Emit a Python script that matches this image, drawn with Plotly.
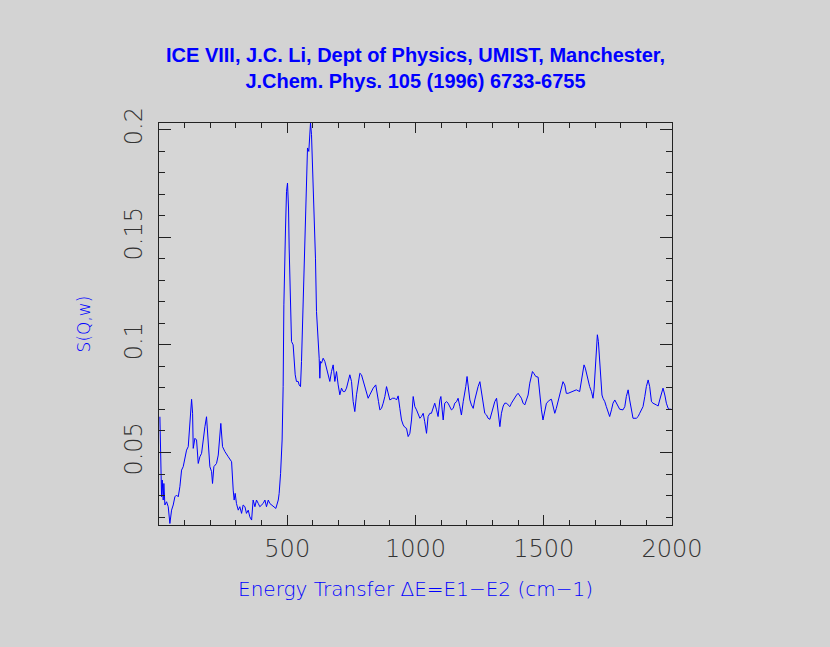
import plotly.graph_objects as go

# Energy transfer (cm-1) and S(Q,w) values
energy = [3.5, 7.4, 10, 12.6, 16.5, 19, 23, 29.5, 36, 42.4, 49, 55.4, 62, 68.4, 75, 81.4, 88, 94.4,
          101, 107.4, 114, 120.4, 127, 131, 133.4, 140, 146.4, 153, 159.4, 166, 172.3, 179, 185.3,
          192, 198.3, 205, 208.7, 214, 224.3, 231, 237.3, 241, 247.7, 257, 270, 283, 289.3, 293,
          297, 302, 309, 315, 322, 328, 335, 341, 348, 354, 361, 367, 374, 380, 387, 393, 406,
          413, 419, 426, 432, 445, 455.5, 465, 468.5, 474, 480, 484,
          486.8, 493.3, 497.2, 501, 505, 507.5, 512.7, 516.6, 523, 527, 531, 536, 542.6, 546.5,
          551.7, 555.6, 559.5, 564.7, 568.6, 575, 579, 584, 588, 590.7, 594.6, 598.5, 601, 605,
          610, 614, 620.6, 624.5, 627, 629.6, 633.5, 640, 646.5, 653, 659.5, 666, 672.5, 679,
          685.5, 692, 698.5, 705, 711.5, 718, 724.5, 731, 744, 750.5, 757, 763.4, 770, 776.4,
          783, 789.4, 796, 802.4, 809, 815.4, 822, 828.4, 835, 845, 850.5, 855.7, 861,
          867.5, 874, 880.5, 887, 893.5, 900, 910.4, 919.5, 926, 932.4, 939, 945.4, 952, 958.4,
          965, 971.4, 978, 984.4, 991, 997.4, 1004, 1010, 1017, 1023, 1030, 1036, 1043, 1049,
          1056, 1062, 1069, 1075, 1082, 1088, 1095, 1099, 1104, 1108, 1114, 1121, 1127, 1134,
          1140, 1147, 1153, 1160, 1166, 1173, 1179, 1186, 1192, 1196, 1201, 1207, 1212, 1218,
          1225, 1231, 1238, 1244, 1251, 1257, 1264, 1270, 1277, 1283, 1290, 1296, 1303, 1309,
          1316, 1322, 1329, 1335, 1342, 1348, 1355, 1361, 1368, 1374, 1381, 1387, 1394, 1400,
          1406.5, 1413, 1419.5, 1426, 1432.5, 1439, 1445.5, 1452, 1456, 1461, 1469, 1478, 1484,
          1491, 1497, 1504, 1510.5, 1517, 1523, 1530, 1536, 1543, 1549, 1556, 1562, 1569, 1575,
          1582, 1588, 1595, 1601, 1614, 1627, 1640, 1647, 1653, 1657, 1662, 1666, 1673, 1679,
          1686, 1692, 1696, 1700, 1705, 1709, 1713, 1718, 1722, 1727, 1731, 1738, 1744, 1751,
          1757, 1764, 1770, 1777, 1783, 1790, 1796, 1809, 1816, 1822, 1829, 1835, 1842, 1848,
          1861, 1868, 1874, 1881, 1887, 1894, 1900, 1907, 1913, 1920, 1926, 1939, 1946, 1952,
          1959, 1965, 1972, 1978, 1985, 1991, 1997]

sqw = [0.0666, 0.0403, 0.0294, 0.0372, 0.0279, 0.0356, 0.0256, 0.0271, 0.0248, 0.0170, 0.0232,
       0.0256, 0.0294, 0.0302, 0.0294, 0.0341, 0.0418, 0.0434, 0.0480, 0.0511, 0.0527, 0.0635,
       0.0747, 0.0682, 0.0519, 0.0566, 0.0558, 0.0449, 0.0480, 0.0496, 0.0573, 0.0620, 0.0666,
       0.0558, 0.0434, 0.0411, 0.0356, 0.0434, 0.0449, 0.0488, 0.0573, 0.0635, 0.0527, 0.0504,
       0.0480, 0.0457, 0.0325, 0.0279, 0.0310, 0.0263, 0.0232, 0.0248, 0.0217, 0.0256, 0.0248,
       0.0217, 0.0232, 0.0201, 0.0186, 0.0279, 0.0248, 0.0279, 0.0263, 0.0248, 0.0263, 0.0279,
       0.0248, 0.0279, 0.0263, 0.0248, 0.0240, 0.0279, 0.0310, 0.0403, 0.0558, 0.0806,
       0.1186, 0.1543, 0.1713, 0.1752, 0.1636, 0.1450, 0.1202, 0.1016, 0.1000, 0.0923, 0.0861,
       0.0830, 0.0830, 0.0814, 0.0806, 0.0923, 0.1109, 0.1233, 0.1419, 0.1729, 0.1915, 0.1899,
       0.1977, 0.2031, 0.1977, 0.1837, 0.1713, 0.1574, 0.1403, 0.1155, 0.1047, 0.0938, 0.0845,
       0.0923, 0.0915, 0.0938, 0.0923, 0.0892, 0.0861, 0.0830, 0.0876, 0.0907, 0.0830, 0.0876,
       0.0814, 0.0768, 0.0799, 0.0783, 0.0783, 0.0799, 0.0861, 0.0830, 0.0737, 0.0690, 0.0768,
       0.0830, 0.0868, 0.0861, 0.0830, 0.0799, 0.0768, 0.0752, 0.0768, 0.0783, 0.0799, 0.0814,
       0.0783, 0.0737, 0.0698,
       0.0705, 0.0729, 0.0760, 0.0806, 0.0767, 0.0744, 0.0752, 0.0752, 0.0744, 0.0763, 0.0705,
       0.0651, 0.0628, 0.0617, 0.0612, 0.0574, 0.0589, 0.0651, 0.0760, 0.0713, 0.0698, 0.0682,
       0.0659, 0.0667, 0.0682, 0.0643, 0.0589, 0.0667, 0.0682, 0.0682, 0.0705, 0.0729, 0.0698,
       0.0667, 0.0744, 0.0760, 0.0698, 0.0651, 0.0729, 0.0736, 0.0729, 0.0713, 0.0698, 0.0705,
       0.0729, 0.0736, 0.0752, 0.0713, 0.0674, 0.0736, 0.0775, 0.0806, 0.0853, 0.0806, 0.0744,
       0.0721, 0.0705, 0.0744, 0.0783, 0.0806, 0.0829, 0.0775, 0.0713, 0.0682, 0.0674, 0.0659,
       0.0654, 0.0682, 0.0721, 0.0736, 0.0752, 0.0682, 0.0620, 0.0682, 0.0716, 0.0729, 0.0729,
       0.0721, 0.0713, 0.0729, 0.0744, 0.0757, 0.0767, 0.0775,
       0.0760, 0.0752, 0.0729, 0.0721, 0.0744, 0.0767, 0.0822, 0.0868, 0.0876, 0.0868, 0.0853,
       0.0850, 0.0775, 0.0698, 0.0651, 0.0698, 0.0729, 0.0736, 0.0744, 0.0747, 0.0713, 0.0682,
       0.0705, 0.0736, 0.0767, 0.0799, 0.0829, 0.0814, 0.0775, 0.0775, 0.0778, 0.0783, 0.0791,
       0.0783, 0.0829, 0.0884, 0.0907, 0.0892, 0.0868, 0.0837, 0.0806, 0.0783, 0.0752, 0.0791,
       0.0884, 0.0992, 0.1047, 0.1016, 0.0915, 0.0822, 0.0767, 0.0752, 0.0736, 0.0713, 0.0690,
       0.0667, 0.0698, 0.0729, 0.0744, 0.0729, 0.0713, 0.0701, 0.0698, 0.0713, 0.0760, 0.0791,
       0.0744, 0.0690, 0.0659, 0.0659, 0.0667, 0.0682, 0.0698, 0.0713, 0.0760, 0.0806, 0.0837,
       0.0806, 0.0736, 0.0729, 0.0721, 0.0716, 0.0744, 0.0775, 0.0799, 0.0767, 0.0729, 0.0705,
       0.0701, 0.0701]

x_tick_vals = [500, 1000, 1500, 2000]
x_tick_text = ["500", "1000", "1500", "2000"]
y_tick_vals = [0.05, 0.1, 0.15, 0.2]
y_tick_text = ["0.05", "0.1", "0.15", "0.2"]

title_text = ("ICE VIII, J.C. Li, Dept of Physics, UMIST, Manchester,<br>"
              "J.Chem. Phys. 105 (1996) 6733-6755")
x_title = "Energy Transfer \u0394E=E1\u2212E2 (cm\u22121)"
y_title = "S(Q,w)"

BLUE = "#0000ff"
BG = "#d3d3d3"
AX = "#222222"
tick_font = dict(family="DejaVu Sans", size=24, color="#333333", weight=200)

fig = go.Figure(go.Scatter(x=energy, y=sqw, mode="lines",
                           line=dict(color=BLUE, width=1), hoverinfo="skip"))

fig.update_layout(
    width=830, height=647,
    paper_bgcolor=BG, plot_bgcolor="#d6d6d6",
    margin=dict(l=159, r=158, t=123, b=122),
    showlegend=False,
    title=dict(text=title_text, x=0.5, xanchor="center", xref="paper",
               y=1 - 62 / 647, yref="container", yanchor="top",
               font=dict(family="Liberation Sans", size=20, color=BLUE, weight="bold")),
    xaxis=dict(range=[0, 2000], tickmode="array", tickvals=x_tick_vals, ticktext=x_tick_text,
               ticks="inside", ticklen=10, tickwidth=1, tickcolor=AX,
               minor=dict(tickmode="linear", tick0=0, dtick=100, ticks="inside",
                          ticklen=5, tickwidth=1, tickcolor=AX),
               showline=True, linecolor=AX, linewidth=1, mirror="allticks",
               showgrid=False, zeroline=False, tickfont=tick_font, ticklabelstandoff=2,
               title=dict(text=x_title, standoff=20,
                          font=dict(family="DejaVu Sans", size=20, color=BLUE, weight=200))),
    yaxis=dict(range=[0.0163, 0.2031], tickmode="array", tickvals=y_tick_vals, ticktext=y_tick_text,
               ticks="inside", ticklen=12, tickwidth=1, tickcolor=AX,
               minor=dict(tickmode="linear", tick0=0, dtick=0.01, ticks="inside",
                          ticklen=6, tickwidth=1, tickcolor=AX),
               showline=True, linecolor=AX, linewidth=1, mirror="allticks",
               showgrid=False, zeroline=False, tickfont=tick_font, tickangle=-90,
               ticklabelstandoff=6,
               title=dict(text=y_title, standoff=25,
                          font=dict(family="DejaVu Sans", size=17, color=BLUE, weight=200))),
)

fig.write_html("out.html", config={"displayModeBar": False},
               post_script="document.body.style.margin='0';"
                           "document.body.style.background='#d3d3d3';")
